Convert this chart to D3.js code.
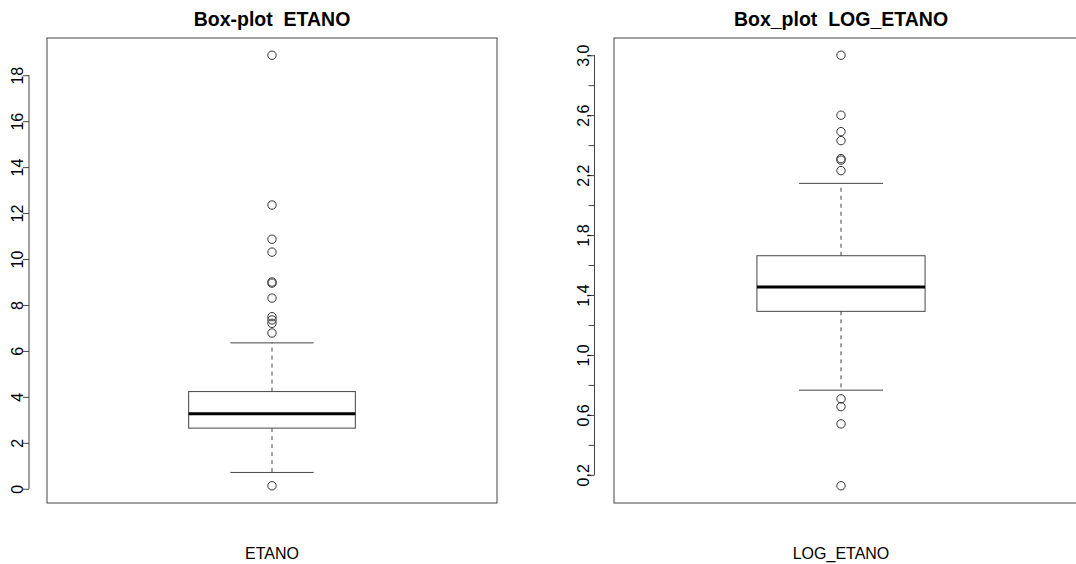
<!DOCTYPE html>
<html>
<head>
<meta charset="utf-8">
<script src="https://cdn.jsdelivr.net/npm/d3@7"></script>
<style>
  html, body { margin: 0; padding: 0; background: #fff; }
  svg { display: block; font-family: "Liberation Sans", Arial, Helvetica, sans-serif; }
  text { white-space: pre; }
</style>
</head>
<body>
<svg id="chart" width="1076" height="564"></svg>
<script>
// ---- data ----
const categories = ["ETANO", "LOG_ETANO"];
const titles = ["Box-plot  ETANO", "Box_plot  LOG_ETANO"];

// five-number summaries: lower whisker, Q1, median, Q3, upper whisker
const etanoStats = [0.71, 2.64, 3.27, 4.23, 6.35];
const etanoOutliers = [0.13, 6.78, 7.20, 7.35, 7.49, 8.30, 8.95, 9.00, 10.30, 10.86, 12.35, 18.87];
const etanoTicks = [0, 2, 4, 6, 8, 10, 12, 14, 16, 18];
const etanoTickLabels = ["0", "2", "4", "6", "8", "10", "12", "14", "16", "18"];

const logStats = [0.765, 1.291, 1.453, 1.662, 2.145];
const logOutliers = [0.127, 0.54, 0.655, 0.707, 2.23, 2.30, 2.31, 2.43, 2.49, 2.60, 3.00];
const logTicks = [0.2, 0.4, 0.6, 0.8, 1.0, 1.2, 1.4, 1.6, 1.8, 2.0, 2.2, 2.4, 2.6, 2.8, 3.0];
const logTickLabels = ["0,2", "", "0,6", "", "1,0", "", "1,4", "", "1,8", "", "2,2", "", "2,6", "", "3,0"];

// ---- layout ----
const svg = d3.select("#chart");
const panels = [
  { title: titles[0], label: categories[0], stats: etanoStats, outliers: etanoOutliers,
    ticks: etanoTicks, tickLabels: etanoTickLabels,
    left: 47, right: 497, frameRight: 497, axisX: 29 },
  { title: titles[1], label: categories[1], stats: logStats, outliers: logOutliers,
    ticks: logTicks, tickLabels: logTickLabels,
    left: 614, right: 1068, frameRight: 1090, axisX: 594.5 }
];
const plotTop = 38, plotBottom = 503;
const lineCol = "#444";

panels.forEach(p => {
  const g = svg.append("g");
  const all = p.stats.concat(p.outliers);
  const mn = d3.min(all), mx = d3.max(all);
  const ext = 0.04 * (mx - mn);
  const y = d3.scaleLinear().domain([mn - ext, mx + ext]).range([plotBottom, plotTop]);
  const x = d3.scaleLinear().domain([0.46, 1.54]).range([p.left, p.right]);

  // frame
  g.append("rect")
    .attr("x", p.left).attr("y", plotTop)
    .attr("width", p.frameRight - p.left).attr("height", plotBottom - plotTop)
    .attr("fill", "none").attr("stroke", lineCol).attr("stroke-width", 1);

  // title
  g.append("text")
    .attr("x", x(1)).attr("y", 25.5)
    .attr("text-anchor", "middle")
    .attr("xml:space", "preserve")
    .attr("font-weight", "bold").attr("font-size", 19.5)
    .attr("fill", "#000")
    .text(p.title);

  // x label
  g.append("text")
    .attr("x", x(1)).attr("y", 559)
    .attr("text-anchor", "middle")
    .attr("font-size", 16).attr("fill", "#000")
    .text(p.label);

  // y axis
  const axis = d3.axisLeft(y)
    .tickValues(p.ticks)
    .tickSize(6)
    .tickPadding(1)
    .tickFormat((d, i) => p.tickLabels[i]);
  const ag = g.append("g").attr("transform", `translate(${p.axisX},0)`).call(axis);
  ag.select(".domain")
    .attr("d", `M0,${y(p.ticks[0])}V${y(p.ticks[p.ticks.length - 1])}`)
    .attr("stroke", lineCol);
  ag.selectAll(".tick line").attr("stroke", lineCol);
  ag.selectAll(".tick text")
    .attr("font-size", 16)
    .attr("font-family", "'Liberation Sans', Arial, sans-serif")
    .attr("fill", "#000")
    .attr("x", null).attr("dy", null)
    .attr("text-anchor", "middle")
    .attr("transform", "translate(-6,0) rotate(-90)");

  const [lw, q1, med, q3, uw] = p.stats;
  const bw = 0.2, cw = 0.1;

  // whiskers (dashed)
  g.append("line")
    .attr("x1", x(1)).attr("x2", x(1)).attr("y1", y(q3)).attr("y2", y(uw))
    .attr("stroke", lineCol).attr("stroke-dasharray", "4,4");
  g.append("line")
    .attr("x1", x(1)).attr("x2", x(1)).attr("y1", y(q1)).attr("y2", y(lw))
    .attr("stroke", lineCol).attr("stroke-dasharray", "4,4");
  // caps
  [lw, uw].forEach(v => {
    g.append("line")
      .attr("x1", x(1 - cw)).attr("x2", x(1 + cw)).attr("y1", y(v)).attr("y2", y(v))
      .attr("stroke", lineCol).attr("stroke-width", 1);
  });
  // box
  g.append("rect")
    .attr("x", x(1 - bw)).attr("y", y(q3))
    .attr("width", x(1 + bw) - x(1 - bw)).attr("height", y(q1) - y(q3))
    .attr("fill", "none").attr("stroke", lineCol).attr("stroke-width", 1);
  // median
  g.append("line")
    .attr("x1", x(1 - bw)).attr("x2", x(1 + bw)).attr("y1", y(med)).attr("y2", y(med))
    .attr("stroke", "#000").attr("stroke-width", 3);
  // outliers
  g.selectAll("circle.out").data(p.outliers).enter().append("circle")
    .attr("class", "out")
    .attr("cx", x(1)).attr("cy", d => y(d)).attr("r", 4.2)
    .attr("fill", "none").attr("stroke", "#333").attr("stroke-width", 1);
});
</script>
</body>
</html>
